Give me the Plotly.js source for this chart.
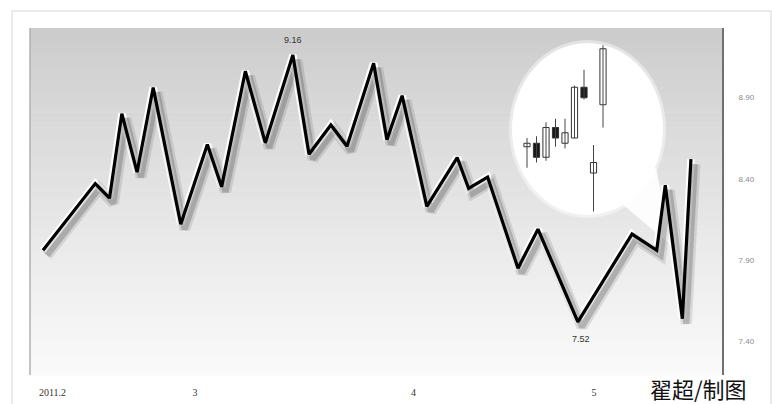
<!DOCTYPE html>
<html>
<head>
<meta charset="utf-8">
<script src="https://cdn.plot.ly/plotly-3.0.1.min.js"></script>
<style>html,body{margin:0;padding:0;background:#fff;}#chart{width:772px;height:404px;}</style>
</head>
<body>
<div id="chart"></div>
<script>
// ---- data (trading-day index, price) ----
const days   = [0, 5.5, 7, 8.3, 9.9, 11.6, 14.5, 17.3, 18.8, 21.3, 23.4, 26.3, 28, 30.3, 32, 34.8, 36.2, 37.8, 40.4, 43.6, 44.8, 46.8, 50, 52.1, 56.3, 62, 64.6, 65.5, 67.3, 68.2];
const prices = [7.96, 8.37, 8.28, 8.80, 8.44, 8.96, 8.12, 8.61, 8.35, 9.06, 8.62, 9.16, 8.55, 8.73, 8.60, 9.11, 8.64, 8.91, 8.23, 8.53, 8.34, 8.41, 7.85, 8.09, 7.52, 8.06, 7.96, 8.36, 7.54, 8.52];
const monthTickDays  = [1, 16, 39, 58];
const monthTickLabels = ['2011.2', '3', '4', '5'];
const priceTicks = [7.4, 7.9, 8.4, 8.9];
const highLabel = '9.16';
const lowLabel = '7.52';
// inset candlesticks
const candleIdx = [0, 1, 2, 3, 4, 5, 6, 7, 8];
const cOpen  = [39, 41, 33, 50, 41, 44, 73, 24, 63];
const cClose = [41, 33, 50, 44, 47, 73, 67, 30, 95];
const cHigh  = [44, 45, 53, 55, 55, 74, 83, 40, 97];
const cLow   = [27, 30, 31, 39, 38, 44, 66, 2, 50];
const credit = '翟超/制图';

// ---- geometry helpers (plot area 30..722 x 28..375 px) ----
const L = 30, R = 722, T = 28, B = 375;
const px = x => (x - L) / (R - L);
const py = y => (B - y) / (B - T);

const xRange = [-1.368, 71.47];
const yRange = [7.194, 9.326];
const pxPerDay = (R - L) / (xRange[1] - xRange[0]);
const pxPerUnit = (B - T) / (yRange[1] - yRange[0]);
const shX = 4, shY = 5;
const xRange2 = [xRange[0] - shX / pxPerDay, xRange[1] - shX / pxPerDay];
const yRange2 = [yRange[0] + shY / pxPerUnit, yRange[1] + shY / pxPerUnit];

// ---- shapes: gradient background, frame, bubble ----
const shapes = [];
shapes.push({type:'rect', xref:'paper', yref:'paper', x0:px(12), x1:px(771), y0:py(11), y1:py(412),
  line:{color:'#d6d6d6', width:1}, fillcolor:'rgba(0,0,0,0)', layer:'below'});
const nb = 70;
for (let i = 0; i < nb; i++) {
  const y0 = T + (B - T) * i / nb, y1 = T + (B - T) * (i + 1) / nb + 0.6;
  const f = (i + 0.5) / nb;
  const c = Math.round(203 + (250 - 203) * Math.pow(f, 0.9));
  shapes.push({type:'rect', xref:'paper', yref:'paper', x0:0, x1:1, y0:py(y1), y1:py(y0),
    line:{width:0}, fillcolor:`rgb(${c},${c},${c})`, layer:'below'});
}
shapes.push({type:'line', xref:'paper', yref:'paper', x0:0, x1:0, y0:0, y1:1, line:{color:'#b0b0b0', width:1.5}, layer:'below'});
// speech bubble (soft edge + body + tail)
shapes.push({type:'circle', xref:'paper', yref:'paper', x0:px(509), x1:px(666), y0:py(218), y1:py(40),
  line:{width:0}, fillcolor:'rgba(255,255,255,0.45)', layer:'below'});
shapes.push({type:'path', xref:'paper', yref:'paper', layer:'below', line:{width:0}, fillcolor:'rgba(255,255,255,0.9)',
  path:`M ${px(615)} ${py(198)} L ${px(672)} ${py(246)} L ${px(656)} ${py(168)} Z`});
shapes.push({type:'circle', xref:'paper', yref:'paper', x0:px(512), x1:px(663), y0:py(215), y1:py(43),
  line:{width:0}, fillcolor:'#ffffff', layer:'below'});

// ---- traces ----
const traces = [];
traces.push({x:days, y:prices, xaxis:'x2', yaxis:'y2', mode:'lines', hoverinfo:'skip',
  line:{color:'rgba(0,0,0,0.10)', width:11}});
traces.push({x:days, y:prices, xaxis:'x2', yaxis:'y2', mode:'lines', hoverinfo:'skip',
  line:{color:'rgba(0,0,0,0.18)', width:6}});
traces.push({x:days, y:prices, mode:'lines', hoverinfo:'skip', line:{color:'#ffffff', width:7.5}});
traces.push({x:days, y:prices, mode:'lines', hoverinfo:'skip', line:{color:'#000000', width:3.2}});

// inset candles: wicks then bodies
const wx = [], wy = [];
candleIdx.forEach((i, k) => { wx.push(i, i, null); wy.push(cLow[k], cHigh[k], null); });
traces.push({x:wx, y:wy, xaxis:'x3', yaxis:'y3', mode:'lines', hoverinfo:'skip', line:{color:'#444', width:1}});
traces.push({type:'bar', x:candleIdx, xaxis:'x3', yaxis:'y3', hoverinfo:'skip', width:0.65,
  base:candleIdx.map(k => Math.min(cOpen[k], cClose[k])),
  y:candleIdx.map(k => Math.abs(cClose[k] - cOpen[k])),
  marker:{color:candleIdx.map(k => cClose[k] >= cOpen[k] ? '#ffffff' : '#1a1a1a'), line:{color:'#333', width:1}}});

// ---- annotations ----
const iMax = prices.indexOf(Math.max(...prices));
const iMin = prices.indexOf(Math.min(...prices));
const annotations = [
  {x:days[iMax], y:prices[iMax], xref:'x', yref:'y', text:highLabel, showarrow:false, yshift:15,
   font:{family:'Liberation Sans, Arial', size:9, color:'#333'}},
  {x:days[iMin], y:prices[iMin], xref:'x', yref:'y', text:lowLabel, showarrow:false, yshift:-17, xshift:3,
   font:{family:'Liberation Sans, Arial', size:9, color:'#333'}},
  {x:px(698), y:py(388), xref:'paper', yref:'paper', xanchor:'center', yanchor:'middle', text:credit, showarrow:false,
   font:{family:'Noto Sans CJK SC', size:22, color:'#111'}}
];

const layout = {
  width:772, height:404,
  margin:{l:L, r:772 - R, t:T, b:404 - B, pad:0},
  paper_bgcolor:'#ffffff', plot_bgcolor:'rgba(0,0,0,0)',
  showlegend:false,
  shapes, annotations,
  xaxis:{range:xRange, tickvals:monthTickDays, ticktext:monthTickLabels, showgrid:false, zeroline:false,
    showline:false, ticks:'', ticklabelstandoff:10, tickfont:{family:'Liberation Serif, serif', size:10, color:'#333'}},
  yaxis:{range:yRange, side:'right', tickvals:priceTicks, tickformat:'.2f', showgrid:false, zeroline:false,
    showline:true, linecolor:'#707070', linewidth:2, ticks:'', ticklabelstandoff:13,
    tickfont:{family:'Liberation Sans, Arial', size:8, color:'#8a8a8a'}},
  xaxis2:{overlaying:'x', range:xRange2, visible:false},
  yaxis2:{overlaying:'y', range:yRange2, visible:false},
  xaxis3:{domain:[px(522.25), px(607.75)], anchor:'y3', range:[-0.5, 8.5], visible:false},
  yaxis3:{domain:[py(215), py(40)], anchor:'x3', range:[0, 100], visible:false}
};

Plotly.newPlot('chart', traces, layout, {staticPlot:true, displayModeBar:false});
</script>
</body>
</html>
